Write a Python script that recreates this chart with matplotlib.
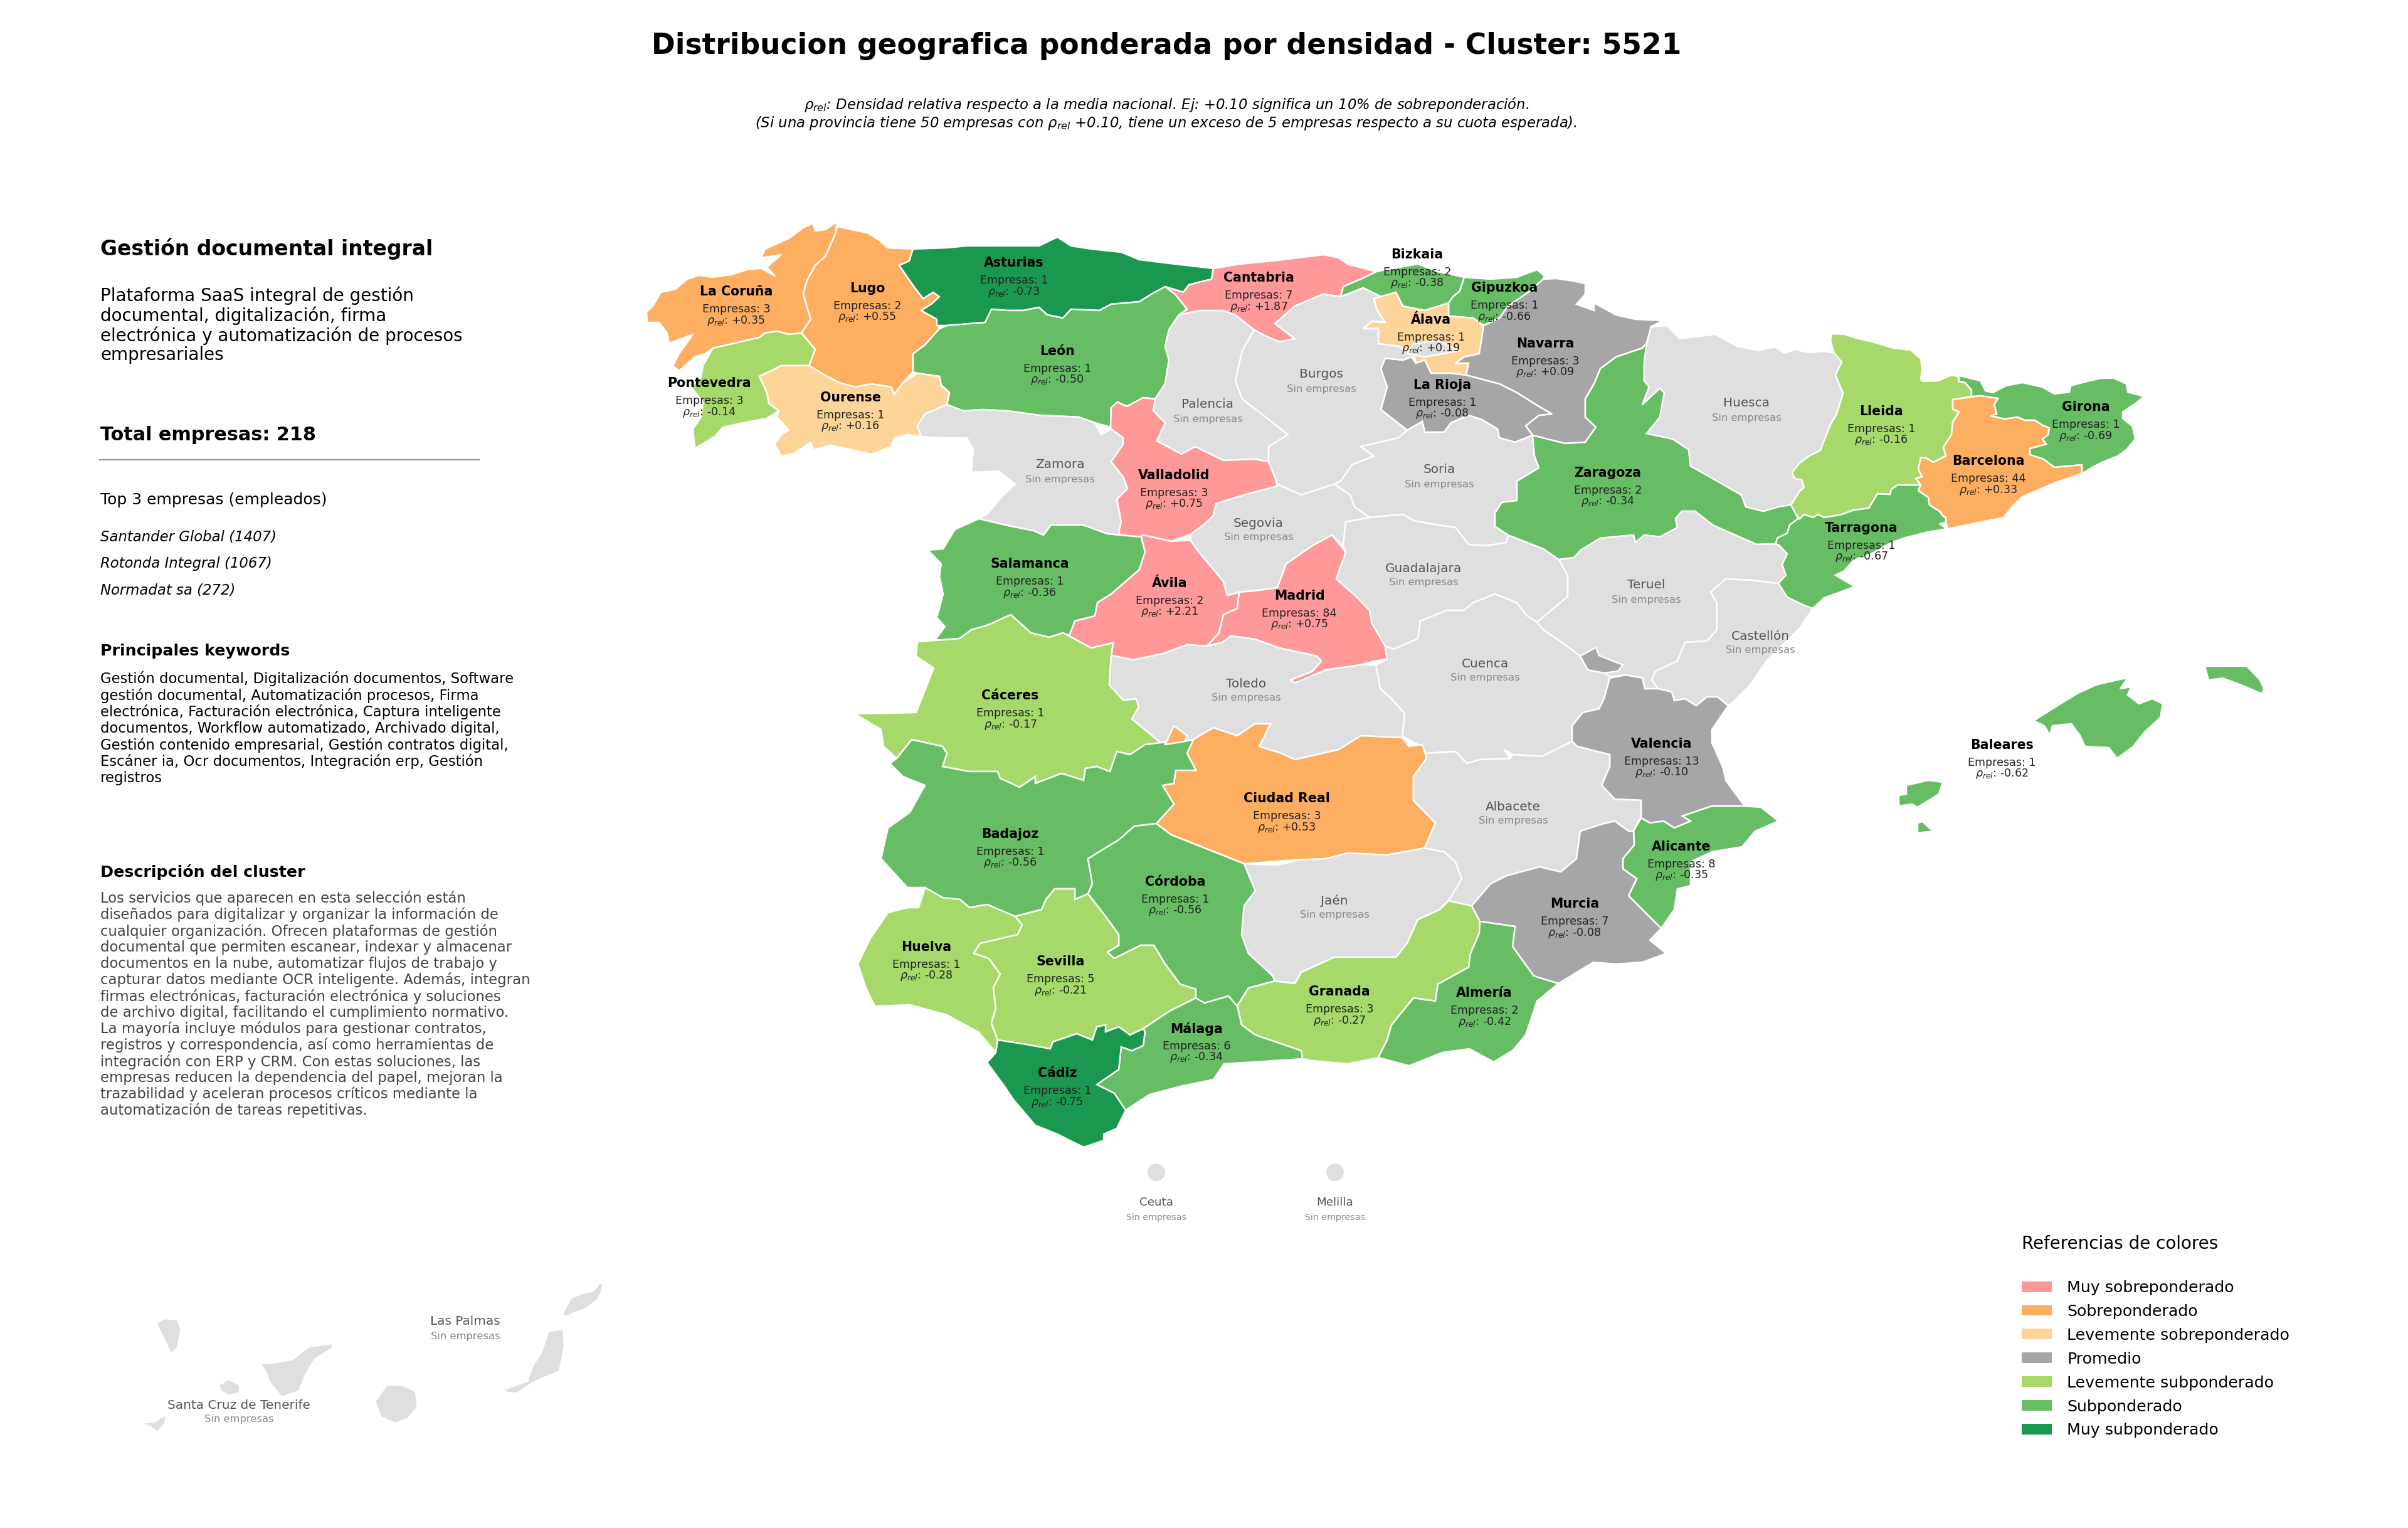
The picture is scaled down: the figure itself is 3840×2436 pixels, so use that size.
import matplotlib
matplotlib.use("Agg")
import matplotlib.pyplot as plt
from matplotlib.patches import Polygon, Patch, Ellipse

# province table
names = ["La Coruña", "Lugo", "Asturias", "León", "Pontevedra", "Ourense", "Zamora", "Palencia", "Valladolid",
         "Salamanca", "Ávila", "Cantabria", "Bizkaia", "Gipuzkoa", "Álava", "Navarra", "La Rioja", "Burgos", "Soria",
         "Segovia", "Madrid", "Guadalajara", "Zaragoza", "Huesca", "Teruel", "Castellón", "Cuenca", "Tarragona",
         "Lleida", "Girona", "Barcelona", "Cáceres", "Toledo", "Ciudad Real", "Badajoz", "Córdoba", "Jaén", "Huelva",
         "Sevilla", "Granada", "Málaga", "Cádiz", "Valencia", "Albacete", "Alicante", "Murcia", "Almería", "Baleares",
         "Ceuta", "Melilla", "Las Palmas", "Santa Cruz de Tenerife"]
empresas = [3, 2, 1, 1, 3, 1, 0, 0, 3,
            1, 2, 7, 2, 1, 1, 3, 1, 0, 0,
            0, 84, 0, 2, 0, 0, 0, 0, 1,
            1, 1, 44, 1, 0, 3, 1, 1, 0, 1,
            5, 3, 6, 1, 13, 0, 8, 7, 2, 1,
            0, 0, 0, 0]
rho = [0.35, 0.55, -0.73, -0.50, -0.14, 0.16, None, None, 0.75,
       -0.36, 2.21, 1.87, -0.38, -0.66, 0.19, 0.09, -0.08, None, None,
       None, 0.75, None, -0.34, None, None, None, None, -0.67,
       -0.16, -0.69, 0.33, -0.17, None, 0.53, -0.56, -0.56, None, -0.28,
       -0.21, -0.27, -0.34, -0.75, -0.10, None, -0.35, -0.08, -0.42, -0.62,
       None, None, None, None]
label_x = [1174, 1383, 1617, 1686, 1131, 1356, 1690, 1926, 1872,
           1642, 1865, 2007, 2260, 2399, 2282, 2464, 2300, 2107, 2295,
           2007, 2072, 2270, 2564, 2785, 2625, 2807, 2368, 2968,
           3000, 3326, 3171, 1611, 1987, 2052, 1611, 1874, 2128, 1477,
           1691, 2136, 1908, 1686, 2650, 2413, 2681, 2511, 2367, 3192,
           1844, 2129, 742, 381]
label_y = [465, 460, 419, 560, 611, 634, 741, 645, 758,
           899, 930, 443, 406, 459, 510, 548, 614, 597, 749,
           834, 950, 906, 754, 643, 933, 1014, 1058, 842,
           656, 649, 735, 1109, 1090, 1273, 1330, 1406, 1436, 1510,
           1533, 1581, 1640, 1711, 1186, 1286, 1350, 1441, 1583, 1188,
           1917, 1917, 2107, 2240]

legend_labels = ["Muy sobreponderado", "Sobreponderado", "Levemente sobreponderado", "Promedio",
                 "Levemente subponderado", "Subponderado", "Muy subponderado"]
legend_colors = ["#ff9999", "#fdae61", "#fed599", "#a6a6a6", "#a6d96a", "#66bd63", "#1a9850"]
NO_DATA = "#dfdfdf"

# province outlines
la_coruna = [(1335,354),(1316,366),(1300,368),(1297,356),(1281,363),(1258,380),(1242,387),(1220,397),(1214,411),(1246,406),(1223,426),(1236,440),(1214,428),(1191,430),(1166,438),(1137,442),(1115,439),(1096,445),(1077,461),(1054,466),(1041,488),(1031,497),(1032,514),(1051,514),(1064,531),(1067,547),(1105,533),(1083,564),(1073,583),(1083,591),(1108,569),(1124,564),(1137,555),(1172,547),(1211,538),(1220,531),(1239,528),(1258,533),(1278,531),(1293,509),(1281,469),(1287,447),(1300,423),(1316,409),(1332,373)]
lugo = [(1332,373),(1335,361),(1357,366),(1383,371),(1402,383),(1415,395),(1456,397),(1450,416),(1434,423),(1447,442),(1459,459),(1472,476),(1488,466),(1498,473),(1485,485),(1469,495),(1494,509),(1498,524),(1475,550),(1456,564),(1456,593),(1440,610),(1426,629),(1421,617),(1389,612),(1364,617),(1338,610),(1319,600),(1290,583),(1300,557),(1278,531),(1293,509),(1281,469),(1287,447),(1300,423),(1316,409)]
pontevedra = [(1278,531),(1300,557),(1290,583),(1274,583),(1246,583),(1211,600),(1223,626),(1226,643),(1242,655),(1223,667),(1185,674),(1153,681),(1140,696),(1108,715),(1105,684),(1118,665),(1121,641),(1102,617),(1118,602),(1121,583),(1137,555),(1172,547),(1211,538),(1220,531),(1239,528),(1258,533)]
ourense = [(1211,600),(1246,583),(1274,583),(1290,583),(1319,600),(1338,610),(1364,617),(1389,612),(1421,617),(1426,629),(1440,610),(1463,595),(1498,600),(1501,614),(1514,626),(1510,645),(1475,660),(1463,679),(1469,696),(1447,693),(1427,698),(1421,712),(1389,724),(1357,717),(1325,710),(1297,717),(1293,705),(1265,724),(1246,727),(1235,708),(1246,693),(1258,686),(1239,665),(1242,655),(1226,643),(1223,626)]
asturias = [(1456,397),(1510,395),(1542,392),(1574,392),(1609,392),(1657,392),(1686,378),(1708,392),(1740,397),(1788,402),(1817,414),(1874,421),(1935,428),(1932,445),(1896,454),(1887,466),(1858,457),(1836,469),(1817,481),(1772,485),(1753,495),(1708,493),(1695,507),(1670,502),(1657,490),(1632,495),(1606,495),(1581,493),(1571,514),(1510,519),(1494,519),(1494,509),(1469,495),(1485,485),(1498,473),(1488,466),(1472,476),(1459,459),(1447,442),(1434,423),(1450,416)]
leon = [(1510,519),(1571,514),(1581,493),(1606,495),(1632,495),(1657,490),(1670,502),(1695,507),(1708,493),(1753,495),(1772,485),(1817,481),(1836,469),(1858,457),(1874,469),(1893,493),(1880,502),(1864,526),(1858,552),(1864,574),(1858,612),(1842,636),(1823,634),(1797,648),(1782,641),(1772,650),(1771,681),(1746,674),(1721,665),(1657,662),(1606,655),(1568,653),(1536,655),(1510,645),(1514,626),(1501,614),(1498,600),(1463,595),(1456,593),(1456,564),(1475,550),(1498,524)]
zamora = [(1510,645),(1536,655),(1568,653),(1606,655),(1657,662),(1721,665),(1746,674),(1756,693),(1772,684),(1791,698),(1791,708),(1772,736),(1791,760),(1798,779),(1781,796),(1788,832),(1785,853),(1766,851),(1727,837),(1676,837),(1664,853),(1648,846),(1612,839),(1561,827),(1574,820),(1600,789),(1619,772),(1593,751),(1549,753),(1552,717),(1542,698),(1498,698),(1469,696),(1463,679),(1475,660)]
salamanca = [(1561,827),(1612,839),(1648,846),(1664,853),(1676,837),(1727,837),(1766,851),(1785,853),(1820,856),(1826,880),(1817,908),(1772,947),(1750,961),(1746,982),(1714,990),(1708,1014),(1695,1009),(1673,1016),(1644,1009),(1612,980),(1574,997),(1549,1004),(1530,1018),(1491,1021),(1507,999),(1494,985),(1504,947),(1498,918),(1501,899),(1480,877),(1504,875),(1523,844)]
valladolid = [(1772,650),(1782,641),(1797,648),(1823,634),(1842,636),(1839,655),(1858,674),(1845,703),(1884,724),(1906,712),(1951,734),(2000,732),(2023,736),(2033,760),(2037,775),(1984,789),(1939,803),(1935,822),(1919,837),(1900,851),(1868,863),(1823,853),(1820,856),(1785,853),(1785,844),(1788,832),(1781,796),(1798,779),(1791,760),(1772,736),(1791,708),(1791,698),(1772,684),(1771,681)]
palencia = [(1880,502),(1912,495),(1951,495),(1970,502),(2000,526),(1981,559),(1970,607),(1981,636),(2012,660),(2054,693),(2023,712),(2023,736),(2000,732),(1951,734),(1906,712),(1884,724),(1845,703),(1858,674),(1839,655),(1842,636),(1858,612),(1864,574),(1858,552),(1864,526)]
burgos = [(1981,559),(2000,526),(2019,536),(2040,545),(2065,540),(2033,516),(2065,488),(2110,469),(2138,473),(2174,459),(2202,473),(2191,476),(2195,493),(2209,514),(2188,512),(2174,524),(2198,524),(2198,548),(2230,552),(2254,564),(2258,579),(2251,569),(2237,574),(2209,571),(2202,588),(2212,617),(2202,653),(2244,686),(2230,698),(2170,712),(2191,727),(2156,741),(2138,767),(2128,772),(2075,789),(2037,772),(2033,760),(2023,736),(2023,712),(2054,693),(2012,660),(1981,636),(1970,607)]
trevino = [(2254,548),(2293,543),(2328,559),(2272,569),(2244,564)]
cantabria = [(1935,428),(1977,421),(2047,414),(2110,406),(2135,411),(2149,421),(2195,433),(2170,445),(2142,457),(2138,473),(2110,469),(2065,488),(2033,516),(2065,540),(2040,545),(2019,536),(2000,526),(1970,502),(1951,495),(1912,495),(1880,502),(1893,493),(1874,469),(1858,457),(1887,466),(1896,454),(1932,445)]
bizkaia = [(2195,433),(2209,430),(2261,421),(2293,433),(2335,442),(2328,464),(2317,473),(2310,483),(2272,495),(2237,488),(2226,466),(2202,473),(2174,459),(2138,473),(2142,457),(2170,445)]
gipuzkoa = [(2335,442),(2377,445),(2419,442),(2451,430),(2463,440),(2461,445),(2440,464),(2405,488),(2391,507),(2366,519),(2349,507),(2310,504),(2310,483),(2317,473),(2328,464)]
navarra = [(2461,445),(2482,444),(2503,447),(2528,452),(2528,469),(2514,485),(2542,495),(2542,483),(2577,502),(2608,509),(2651,511),(2633,521),(2626,547),(2619,555),(2577,569),(2552,588),(2542,612),(2528,636),(2528,665),(2545,681),(2528,705),(2496,707),(2444,694),(2433,679),(2454,662),(2475,660),(2454,648),(2419,626),(2391,612),(2338,598),(2342,579),(2321,579),(2335,569),(2359,564),(2366,519),(2391,507),(2405,488),(2440,464)]
alava = [(2226,466),(2237,488),(2272,495),(2310,483),(2310,504),(2349,507),(2366,519),(2359,564),(2335,569),(2321,579),(2342,579),(2338,598),(2314,595),(2282,595),(2272,574),(2258,579),(2254,564),(2230,552),(2198,548),(2198,524),(2174,524),(2188,512),(2209,514),(2195,493),(2191,476),(2202,473)]
la_rioja = [(2209,571),(2237,574),(2251,569),(2258,579),(2272,574),(2282,595),(2314,595),(2338,598),(2391,612),(2419,626),(2454,648),(2475,660),(2454,662),(2433,679),(2444,694),(2416,705),(2391,698),(2388,684),(2363,669),(2342,662),(2314,674),(2303,689),(2272,689),(2268,672),(2244,686),(2202,653),(2212,617),(2202,588)]
soria = [(2244,686),(2268,672),(2272,689),(2303,689),(2314,674),(2342,662),(2363,669),(2388,684),(2391,698),(2416,705),(2444,694),(2447,727),(2454,746),(2419,767),(2419,798),(2395,801),(2384,818),(2384,839),(2405,853),(2402,865),(2370,870),(2342,868),(2321,841),(2293,837),(2254,830),(2237,820),(2184,825),(2160,808),(2153,789),(2128,772),(2138,767),(2156,741),(2191,727),(2170,712),(2230,698)]
segovia = [(1900,851),(1919,837),(1935,822),(1939,803),(1984,789),(2037,775),(2037,772),(2075,789),(2128,772),(2153,789),(2160,808),(2184,825),(2146,832),(2142,870),(2124,853),(2093,870),(2051,899),(2037,937),(2000,942),(1976,944),(1957,949),(1951,927),(1912,880),(1898,861)]
avila = [(1820,856),(1823,853),(1868,863),(1898,861),(1912,880),(1951,927),(1957,949),(1976,944),(1973,970),(1951,980),(1944,1009),(1925,1030),(1893,1028),(1855,1042),(1807,1052),(1772,1045),(1775,1025),(1740,1033),(1705,1014),(1714,990),(1746,982),(1750,961),(1772,947),(1817,908),(1826,880)]
madrid = [(2124,853),(2146,880),(2131,923),(2163,951),(2184,973),(2188,994),(2209,1030),(2212,1051),(2191,1054),(2170,1060),(2114,1068),(2065,1089),(2058,1084),(2093,1070),(2107,1054),(2100,1046),(2040,1033),(2001,1019),(1963,1014),(1949,1024),(1925,1030),(1944,1009),(1951,980),(1973,970),(1976,944),(2000,942),(2037,937),(2051,899),(2093,870)]
guadalajara = [(2184,825),(2237,820),(2254,830),(2293,837),(2321,841),(2342,868),(2370,870),(2402,865),(2405,853),(2461,875),(2486,892),(2500,918),(2500,951),(2451,992),(2433,980),(2419,961),(2384,947),(2349,961),(2335,973),(2307,973),(2265,990),(2261,1018),(2223,1035),(2209,1030),(2188,994),(2184,973),(2163,951),(2131,923),(2146,880),(2142,870),(2146,832)]
cuenca = [(2209,1030),(2223,1035),(2261,1018),(2265,990),(2307,973),(2335,973),(2349,961),(2384,947),(2419,961),(2433,980),(2451,992),(2461,1004),(2489,1023),(2520,1046),(2532,1068),(2558,1073),(2567,1079),(2567,1081),(2558,1114),(2550,1130),(2524,1136),(2507,1157),(2507,1182),(2459,1206),(2412,1203),(2399,1195),(2408,1209),(2360,1211),(2339,1217),(2321,1198),(2275,1201),(2261,1187),(2236,1173),(2240,1138),(2219,1114),(2201,1098),(2194,1060),(2212,1051)]
teruel = [(2486,892),(2510,889),(2521,877),(2552,858),(2605,853),(2608,865),(2622,853),(2647,856),(2675,841),(2672,827),(2682,815),(2703,815),(2731,837),(2801,868),(2832,867),(2838,870),(2850,883),(2842,900),(2848,917),(2836,930),(2791,925),(2752,923),(2728,944),(2738,961),(2738,1004),(2722,1022),(2687,1024),(2675,1054),(2640,1070),(2634,1084),(2644,1098),(2623,1098),(2619,1081),(2593,1076),(2567,1079),(2558,1073),(2532,1068),(2520,1046),(2489,1023),(2461,1004),(2451,992),(2500,951),(2500,918)]
ademuz = [(2520,1046),(2545,1032),(2550,1045),(2588,1060),(2580,1070),(2558,1073),(2532,1068)]
castellon = [(2836,930),(2850,952),(2877,965),(2891,970),(2871,1000),(2817,1054),(2791,1092),(2761,1122),(2756,1125),(2739,1111),(2722,1111),(2705,1125),(2687,1114),(2670,1117),(2666,1103),(2644,1098),(2634,1084),(2640,1070),(2675,1054),(2687,1024),(2722,1022),(2738,1004),(2738,961),(2728,944),(2752,923),(2791,925)]
valencia = [(2567,1081),(2593,1076),(2619,1081),(2623,1098),(2644,1098),(2666,1103),(2670,1117),(2687,1114),(2705,1125),(2722,1111),(2739,1111),(2756,1125),(2730,1163),(2730,1184),(2748,1225),(2752,1244),(2782,1285),(2730,1285),(2683,1301),(2696,1309),(2670,1320),(2653,1309),(2631,1312),(2617,1304),(2617,1276),(2575,1274),(2554,1252),(2567,1222),(2567,1203),(2515,1190),(2507,1182),(2507,1157),(2524,1136),(2550,1130),(2558,1114)]
albacete = [(2507,1182),(2515,1190),(2567,1203),(2567,1222),(2554,1252),(2575,1274),(2617,1276),(2617,1304),(2614,1306),(2605,1325),(2597,1325),(2575,1309),(2554,1314),(2520,1325),(2514,1369),(2489,1390),(2455,1382),(2403,1396),(2377,1409),(2347,1444),(2310,1436),(2331,1401),(2321,1374),(2303,1358),(2272,1352),(2289,1312),(2254,1276),(2254,1238),(2275,1209),(2275,1201),(2321,1198),(2339,1217),(2360,1211),(2408,1209),(2412,1203),(2459,1206)]
murcia = [(2347,1444),(2377,1409),(2403,1396),(2455,1382),(2489,1390),(2514,1369),(2520,1325),(2554,1314),(2575,1309),(2597,1325),(2605,1325),(2606,1347),(2588,1369),(2588,1385),(2610,1401),(2597,1428),(2649,1480),(2631,1499),(2657,1520),(2619,1534),(2576,1537),(2541,1534),(2485,1568),(2446,1556),(2412,1509),(2416,1477),(2360,1469)]
alicante = [(2617,1304),(2631,1312),(2653,1309),(2670,1320),(2696,1309),(2683,1301),(2730,1285),(2782,1285),(2808,1287),(2836,1309),(2799,1325),(2778,1350),(2730,1358),(2696,1374),(2696,1412),(2675,1417),(2670,1450),(2649,1480),(2597,1428),(2610,1401),(2588,1385),(2588,1369),(2606,1347),(2605,1325)]
almeria = [(2360,1469),(2416,1477),(2412,1509),(2446,1556),(2485,1568),(2451,1596),(2433,1650),(2412,1675),(2382,1693),(2343,1672),(2300,1678),(2247,1699),(2198,1686),(2212,1658),(2219,1634),(2254,1591),(2289,1596),(2293,1569),(2342,1542),(2345,1520),(2359,1488)]
granada = [(2310,1436),(2347,1444),(2360,1469),(2359,1488),(2345,1520),(2342,1542),(2293,1569),(2289,1596),(2254,1591),(2219,1634),(2212,1658),(2198,1686),(2149,1696),(2093,1691),(2077,1688),(2075,1675),(2002,1650),(1980,1634),(1973,1604),(1991,1575),(2033,1564),(2065,1568),(2075,1550),(2128,1526),(2226,1526),(2244,1504),(2261,1466),(2296,1450)]
jaen = [(1984,1377),(2037,1379),(2072,1371),(2114,1369),(2149,1360),(2212,1363),(2272,1352),(2303,1358),(2321,1374),(2331,1401),(2310,1436),(2296,1450),(2261,1466),(2244,1504),(2226,1526),(2128,1526),(2075,1550),(2065,1568),(2033,1564),(2030,1556),(1991,1520),(1980,1490),(1984,1444),(2002,1420),(1994,1401)]
ciudad_real = [(1903,1179),(1935,1160),(1973,1173),(2001,1154),(2026,1154),(2008,1190),(2040,1200),(2065,1211),(2135,1195),(2170,1173),(2236,1176),(2247,1190),(2268,1187),(2275,1209),(2254,1238),(2254,1276),(2289,1312),(2272,1352),(2212,1363),(2114,1369),(2065,1371),(1984,1377),(1921,1352),(1868,1331),(1844,1313),(1872,1282),(1854,1252),(1872,1249),(1875,1228),(1907,1228),(1893,1201)]
ciudad_real_piece = [(1858,1187),(1872,1157),(1893,1173),(1889,1182)]
toledo = [(1772,1045),(1807,1052),(1855,1042),(1893,1028),(1925,1030),(1949,1024),(1963,1014),(2001,1019),(2040,1033),(2100,1046),(2107,1054),(2093,1070),(2058,1084),(2065,1089),(2114,1068),(2170,1060),(2194,1060),(2201,1098),(2219,1114),(2240,1138),(2236,1176),(2170,1173),(2135,1195),(2065,1211),(2040,1200),(2008,1190),(2026,1154),(2001,1154),(1973,1173),(1935,1160),(1903,1179),(1851,1184),(1805,1146),(1816,1127),(1812,1114),(1791,1116),(1769,1092)]
caceres = [(1463,1023),(1491,1021),(1530,1018),(1549,1004),(1574,997),(1612,980),(1644,1009),(1673,1016),(1695,1009),(1705,1014),(1740,1033),(1775,1025),(1772,1045),(1769,1092),(1791,1116),(1812,1114),(1816,1127),(1805,1146),(1851,1184),(1826,1187),(1802,1203),(1781,1198),(1770,1230),(1749,1222),(1731,1225),(1728,1244),(1693,1233),(1651,1249),(1651,1238),(1626,1255),(1595,1241),(1591,1230),(1546,1230),(1503,1222),(1510,1201),(1503,1190),(1454,1179),(1430,1209),(1409,1190),(1405,1163),(1363,1138),(1461,1136),(1489,1065),(1461,1046)]
badajoz = [(1430,1209),(1454,1179),(1503,1190),(1510,1201),(1503,1222),(1546,1230),(1591,1230),(1595,1241),(1626,1255),(1651,1238),(1651,1249),(1693,1233),(1728,1244),(1731,1225),(1749,1222),(1770,1230),(1781,1198),(1802,1203),(1826,1187),(1851,1184),(1889,1182),(1903,1179),(1893,1201),(1907,1228),(1875,1228),(1872,1249),(1854,1252),(1872,1282),(1844,1313),(1809,1317),(1784,1339),(1735,1369),(1742,1409),(1735,1425),(1714,1434),(1714,1417),(1682,1417),(1668,1434),(1661,1450),(1619,1461),(1574,1442),(1546,1447),(1531,1434),(1503,1431),(1475,1415),(1447,1415),(1405,1369),(1416,1320),(1451,1295),(1475,1252),(1440,1238),(1419,1217)]
cordoba = [(1844,1313),(1868,1331),(1921,1352),(1984,1377),(1994,1401),(2002,1420),(1984,1444),(1980,1490),(1991,1520),(2030,1556),(2033,1564),(1991,1575),(1973,1604),(1959,1588),(1921,1599),(1903,1593),(1907,1577),(1882,1569),(1858,1537),(1840,1507),(1819,1507),(1777,1528),(1766,1518),(1784,1507),(1784,1490),(1763,1461),(1735,1425),(1742,1409),(1735,1369),(1784,1339),(1809,1317)]
sevilla = [(1735,1425),(1763,1461),(1784,1490),(1784,1507),(1766,1518),(1777,1528),(1819,1507),(1840,1507),(1858,1537),(1882,1569),(1907,1577),(1907,1591),(1865,1612),(1823,1640),(1802,1650),(1784,1637),(1763,1645),(1763,1634),(1749,1637),(1742,1658),(1717,1648),(1679,1661),(1675,1672),(1630,1664),(1591,1658),(1581,1631),(1588,1607),(1584,1575),(1595,1553),(1577,1528),(1553,1520),(1563,1504),(1623,1490),(1630,1474),(1619,1461),(1661,1450),(1668,1434),(1682,1417),(1714,1417),(1714,1434)]
huelva = [(1475,1415),(1503,1431),(1531,1434),(1546,1447),(1574,1442),(1619,1461),(1630,1474),(1623,1490),(1563,1504),(1553,1520),(1577,1528),(1595,1553),(1584,1575),(1588,1607),(1581,1631),(1591,1658),(1588,1678),(1560,1645),(1510,1618),(1451,1602),(1395,1604),(1381,1575),(1368,1537),(1388,1496),(1416,1455),(1447,1447),(1465,1447)]
cadiz = [(1591,1658),(1630,1664),(1675,1672),(1679,1661),(1717,1648),(1742,1658),(1749,1637),(1763,1634),(1763,1645),(1784,1637),(1802,1650),(1823,1640),(1826,1645),(1823,1667),(1805,1675),(1788,1669),(1784,1705),(1749,1729),(1777,1743),(1795,1770),(1781,1799),(1760,1808),(1760,1818),(1728,1829),(1686,1808),(1651,1794),(1616,1753),(1602,1732),(1574,1694),(1588,1678)]
malaga = [(1907,1591),(1921,1599),(1959,1588),(1973,1604),(1980,1634),(2002,1650),(2075,1675),(2077,1688),(2001,1693),(1952,1696),(1935,1721),(1882,1732),(1833,1745),(1795,1770),(1777,1743),(1749,1729),(1784,1705),(1788,1669),(1805,1675),(1823,1667),(1826,1645),(1823,1640),(1865,1612)]
huesca = [(2633,521),(2658,519),(2679,540),(2735,533),(2770,552),(2805,559),(2830,553),(2846,563),(2862,557),(2885,562),(2909,560),(2925,563),(2937,577),(2927,598),(2939,627),(2929,660),(2919,677),(2907,707),(2903,718),(2885,727),(2870,738),(2858,753),(2862,763),(2873,765),(2877,777),(2870,783),(2856,805),(2836,808),(2812,815),(2784,808),(2777,789),(2735,765),(2696,743),(2693,717),(2668,700),(2626,691),(2647,665),(2654,626),(2647,619),(2636,629),(2619,645),(2630,617),(2622,607),(2622,579),(2626,547)]
zaragoza = [(2619,555),(2626,547),(2622,579),(2622,607),(2630,617),(2619,645),(2636,629),(2647,619),(2654,626),(2647,665),(2626,691),(2668,700),(2693,717),(2696,743),(2735,765),(2777,789),(2784,808),(2812,815),(2836,808),(2856,803),(2866,820),(2866,828),(2854,837),(2850,850),(2834,858),(2832,867),(2801,868),(2731,837),(2703,815),(2682,815),(2672,827),(2675,841),(2647,856),(2622,853),(2608,865),(2605,853),(2552,858),(2521,877),(2510,889),(2486,892),(2461,875),(2405,853),(2384,839),(2384,818),(2395,801),(2419,798),(2419,767),(2454,746),(2447,727),(2444,694),(2496,707),(2528,705),(2545,681),(2528,665),(2528,636),(2542,612),(2552,588),(2577,569)]
lleida = [(2921,532),(2941,533),(2964,540),(2986,545),(3020,555),(3047,558),(3063,572),(3065,588),(3063,605),(3067,608),(3091,607),(3112,598),(3122,600),(3124,608),(3134,610),(3144,622),(3144,632),(3114,637),(3114,652),(3124,657),(3114,673),(3112,693),(3103,707),(3099,713),(3103,727),(3083,737),(3071,730),(3063,730),(3059,747),(3065,760),(3055,763),(3063,773),(3026,773),(3016,780),(3014,788),(2994,787),(2980,810),(2956,813),(2937,820),(2909,825),(2899,820),(2891,825),(2877,820),(2870,827),(2864,820),(2856,805),(2870,783),(2877,777),(2873,765),(2862,763),(2858,753),(2870,738),(2885,727),(2903,718),(2907,707),(2919,677),(2929,660),(2939,627),(2927,598),(2937,577),(2925,563),(2919,543)]
tarragona = [(2866,828),(2877,820),(2891,825),(2899,820),(2909,825),(2937,820),(2956,813),(2980,810),(2994,787),(3014,788),(3016,780),(3026,773),(3063,773),(3059,782),(3075,793),(3077,805),(3093,815),(3099,823),(3103,825),(3103,833),(3093,835),(3105,843),(3075,848),(3039,857),(3016,865),(2984,883),(2956,893),(2941,910),(2927,917),(2937,923),(2958,935),(2937,943),(2909,953),(2891,970),(2877,965),(2850,952),(2836,930),(2848,917),(2842,900),(2850,883),(2838,870),(2832,867),(2834,858),(2850,850),(2854,837)]
barcelona = [(3114,637),(3158,631),(3186,635),(3180,645),(3184,660),(3174,663),(3197,668),(3217,665),(3229,670),(3245,670),(3257,678),(3268,682),(3266,693),(3257,700),(3263,708),(3237,715),(3237,725),(3259,732),(3276,745),(3320,741),(3320,755),(3276,770),(3225,792),(3213,803),(3195,825),(3106,843),(3103,833),(3103,825),(3099,823),(3093,815),(3077,805),(3075,793),(3059,782),(3063,773),(3055,763),(3065,760),(3059,747),(3063,730),(3071,730),(3083,737),(3103,727),(3099,713),(3103,707),(3112,693),(3114,673),(3124,657),(3114,652)]
girona = [(3124,599),(3142,603),(3158,607),(3166,623),(3178,626),(3199,615),(3225,610),(3257,617),(3276,628),(3300,625),(3302,615),(3332,607),(3351,603),(3371,603),(3391,612),(3393,625),(3419,632),(3407,642),(3385,657),(3385,667),(3401,680),(3405,700),(3391,717),(3377,727),(3357,735),(3340,743),(3320,755),(3320,741),(3276,745),(3259,732),(3237,725),(3237,715),(3263,708),(3257,700),(3266,693),(3268,682),(3257,678),(3245,670),(3229,670),(3217,665),(3197,668),(3174,663),(3184,660),(3180,645),(3186,635),(3158,631),(3144,632),(3144,622),(3134,610),(3124,608)]
mallorca = [(3243,1149),(3273,1130),(3312,1106),(3342,1092),(3376,1084),(3393,1081),(3381,1098),(3398,1095),(3393,1108),(3411,1122),(3432,1114),(3449,1122),(3445,1144),(3419,1168),(3402,1190),(3376,1209),(3363,1192),(3325,1190),(3316,1171),(3303,1154),(3273,1157),(3269,1172),(3260,1157)]
menorca = [(3516,1062),(3548,1062),(3583,1062),(3604,1084),(3610,1098),(3607,1106),(3574,1092),(3544,1081),(3522,1084)]
ibiza = [(3040,1252),(3075,1244),(3098,1247),(3092,1266),(3058,1287),(3049,1282),(3028,1285),(3028,1268),(3040,1266)]
formentera = [(3058,1312),(3066,1310),(3079,1322),(3092,1324),(3058,1328)]
la_palma = [(249,2109),(263,2102),(283,2104),(289,2119),(283,2148),(273,2159),(263,2138)]
tenerife = [(415,2174),(436,2173),(467,2167),(492,2147),(530,2142),(530,2149),(502,2167),(487,2192),(477,2218),(449,2227),(431,2205),(423,2186)]
la_gomera = [(349,2208),(365,2199),(382,2208),(382,2221),(365,2224),(352,2218)]
el_hierro = [(226,2269),(247,2266),(265,2255),(263,2269),(251,2283),(240,2275)]
gran_canaria = [(598,2234),(617,2208),(640,2208),(663,2218),(666,2243),(650,2262),(630,2269),(607,2259)]
fuerteventura = [(801,2216),(841,2202),(849,2179),(864,2154),(875,2122),(898,2119),(900,2147),(892,2186),(854,2202),(824,2221),(813,2221)]
lanzarote = [(896,2096),(903,2083),(910,2070),(928,2062),(945,2058),(952,2052),(955,2045),(962,2048),(958,2062),(953,2072),(933,2087),(910,2095),(907,2099)]
la_graciosa = [(948,2042),(953,2037),(954,2042),(950,2044)]

outlines = {
    "La Coruña": [la_coruna], "Lugo": [lugo], "Asturias": [asturias], "León": [leon], "Pontevedra": [pontevedra],
    "Ourense": [ourense], "Zamora": [zamora], "Palencia": [palencia], "Valladolid": [valladolid],
    "Salamanca": [salamanca], "Ávila": [avila], "Cantabria": [cantabria], "Bizkaia": [bizkaia],
    "Gipuzkoa": [gipuzkoa], "Álava": [alava], "Navarra": [navarra], "La Rioja": [la_rioja], "Burgos": [burgos],
    "Soria": [soria], "Segovia": [segovia], "Madrid": [madrid], "Guadalajara": [guadalajara],
    "Zaragoza": [zaragoza], "Huesca": [huesca], "Teruel": [teruel], "Castellón": [castellon], "Cuenca": [cuenca],
    "Tarragona": [tarragona], "Lleida": [lleida], "Girona": [girona], "Barcelona": [barcelona],
    "Cáceres": [caceres], "Toledo": [toledo], "Ciudad Real": [ciudad_real], "Badajoz": [badajoz],
    "Córdoba": [cordoba], "Jaén": [jaen], "Huelva": [huelva], "Sevilla": [sevilla], "Granada": [granada],
    "Málaga": [malaga], "Cádiz": [cadiz], "Valencia": [valencia], "Albacete": [albacete], "Alicante": [alicante],
    "Murcia": [murcia], "Almería": [almeria], "Baleares": [mallorca, menorca, ibiza, formentera],
    "Las Palmas": [gran_canaria, fuerteventura, lanzarote, la_graciosa],
    "Santa Cruz de Tenerife": [la_palma, tenerife, la_gomera, el_hierro],
}
# pieces that sit inside a neighbour, drawn last
enclaves = [("Burgos", trevino), ("Valencia", ademuz), ("Ciudad Real", ciudad_real_piece)]
plazas = {"Ceuta": 1844, "Melilla": 2129}

top3 = ["Santander Global (1407)", "Rotonda Integral (1067)", "Normadat sa (272)"]
keywords = ("Gestión documental, Digitalización documentos, Software\n"
            "gestión documental, Automatización procesos, Firma\n"
            "electrónica, Facturación electrónica, Captura inteligente\n"
            "documentos, Workflow automatizado, Archivado digital,\n"
            "Gestión contenido empresarial, Gestión contratos digital,\n"
            "Escáner ia, Ocr documentos, Integración erp, Gestión\n"
            "registros")
descripcion = ("Los servicios que aparecen en esta selección están\n"
               "diseñados para digitalizar y organizar la información de\n"
               "cualquier organización. Ofrecen plataformas de gestión\n"
               "documental que permiten escanear, indexar y almacenar\n"
               "documentos en la nube, automatizar flujos de trabajo y\n"
               "capturar datos mediante OCR inteligente. Además, integran\n"
               "firmas electrónicas, facturación electrónica y soluciones\n"
               "de archivo digital, facilitando el cumplimiento normativo.\n"
               "La mayoría incluye módulos para gestionar contratos,\n"
               "registros y correspondencia, así como herramientas de\n"
               "integración con ERP y CRM. Con estas soluciones, las\n"
               "empresas reducen la dependencia del papel, mejoran la\n"
               "trazabilidad y aceleran procesos críticos mediante la\n"
               "automatización de tareas repetitivas.")
plataforma = ("Plataforma SaaS integral de gestión\n"
              "documental, digitalización, firma\n"
              "electrónica y automatización de procesos\n"
              "empresariales")


def color_for(r):
    if r is None:
        return NO_DATA
    if r > 0.7:
        return legend_colors[0]
    if r > 0.25:
        return legend_colors[1]
    if r > 0.1:
        return legend_colors[2]
    if r >= -0.1:
        return legend_colors[3]
    if r > -0.3:
        return legend_colors[4]
    if r > -0.7:
        return legend_colors[5]
    return legend_colors[6]


fig = plt.figure(figsize=(19.2, 12.18), dpi=200)
ax = fig.add_axes([0, 0, 1, 1])
ax.set_xlim(0, 3840)
ax.set_ylim(2436, 0)
ax.axis("off")

rho_by_name = dict(zip(names, rho))
for name, pieces in outlines.items():
    for piece in pieces:
        ax.add_patch(Polygon(piece, closed=True, facecolor=color_for(rho_by_name[name]),
                             edgecolor="white", linewidth=0.9, zorder=2))
for name, piece in enclaves:
    ax.add_patch(Polygon(piece, closed=True, facecolor=color_for(rho_by_name[name]),
                         edgecolor="white", linewidth=0.9, zorder=3))
for name, x in plazas.items():
    ax.add_patch(Ellipse((x, 1869), 28, 28, facecolor=NO_DATA, edgecolor="none", zorder=2))

# province labels
for name, n, r, x, y in zip(names, empresas, rho, label_x, label_y):
    if r is None:
        small = name in plazas
        ax.text(x, y, name, ha="center", va="center", fontsize=6.6 if small else 7.2, color="#555555", zorder=5)
        ax.text(x, y + (24 if small else 23), "Sin empresas", ha="center", va="center",
                fontsize=5.1 if small else 5.9, color="#888888", zorder=5)
    else:
        ax.text(x, y, name, ha="center", va="center", fontsize=7.4, fontweight="bold", color="black", zorder=5)
        ax.text(x, y + 28, f"Empresas: {n}", ha="center", va="center", fontsize=6.3, color="#222222", zorder=5)
        ax.text(x, y + 46, r"$\rho_{rel}$: " + f"{r:+.2f}", ha="center", va="center", fontsize=6.3,
                color="#222222", zorder=5)

# header
ax.text(1860, 73, "Distribucion geografica ponderada por densidad - Cluster: 5521", ha="center", va="center",
        fontsize=16.4, fontweight="bold")
ax.text(1860, 167, r"$\rho_{rel}$: Densidad relativa respecto a la media nacional. Ej: +0.10 significa un 10% de sobreponderación.",
        ha="center", va="center", fontsize=8.2, style="italic")
ax.text(1860, 196, r"(Si una provincia tiene 50 empresas con $\rho_{rel}$ +0.10, tiene un exceso de 5 empresas respecto a su cuota esperada).",
        ha="center", va="center", fontsize=8.2, style="italic")

# left panel
ax.text(160, 397, "Gestión documental integral", va="center", fontsize=11.9, fontweight="bold")
ax.text(160, 457, plataforma, va="top", fontsize=10, linespacing=1.1)
ax.text(160, 693, "Total empresas: 218", va="center", fontsize=10.9, fontweight="bold")
ax.plot([159, 764], [733, 733], color="#999999", lw=0.8)
ax.text(160, 797, "Top 3 empresas (empleados)", va="center", fontsize=9)
for name, y in zip(top3, [856, 898, 941]):
    ax.text(160, y, name, va="center", fontsize=8.2, style="italic")
ax.text(160, 1038, "Principales keywords", va="center", fontsize=9.1, fontweight="bold")
ax.text(160, 1070, keywords, va="top", fontsize=8.2, linespacing=1.14)
ax.text(160, 1390, "Descripción del cluster", va="center", fontsize=9.1, fontweight="bold")
ax.text(160, 1420, descripcion, va="top", fontsize=8.2, linespacing=1.13, color="#444444")

# legend
ax.text(3224, 1983, "Referencias de colores", va="center", fontsize=10)
handles = [Patch(facecolor=c, edgecolor="none") for c in legend_colors]
ax.legend(handles, legend_labels, loc="upper left", bbox_to_anchor=(3224 / 3840, 1 - 2041 / 2436),
          frameon=False, fontsize=9.1, borderpad=0, borderaxespad=0, handlelength=1.9, handleheight=0.65,
          handletextpad=0.95, labelspacing=0.55)

fig.savefig("out.png", dpi=200)
